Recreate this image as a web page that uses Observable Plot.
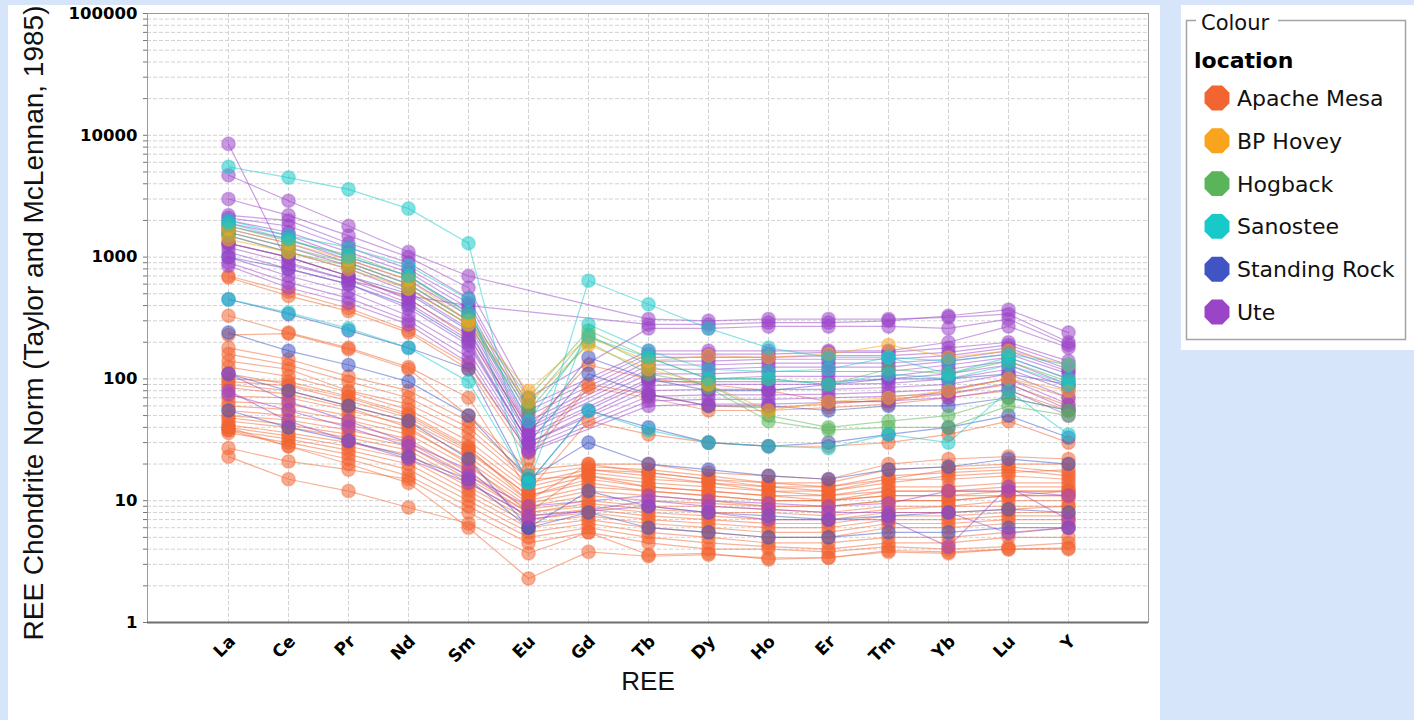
<!DOCTYPE html>
<html><head><meta charset="utf-8">
<script src="https://cdn.jsdelivr.net/npm/d3@7"></script>
<script src="https://cdn.jsdelivr.net/npm/@observablehq/plot@0.6"></script>
<style>
html,body{margin:0;padding:0;background:#d6e5fa;width:1414px;height:720px;overflow:hidden;}
#panel{position:absolute;left:8px;top:5px;width:1152px;height:715px;background:#fff;overflow:hidden;}
#legend{position:absolute;left:1181px;top:5px;width:233px;height:345px;background:#fff;}
</style></head><body>
<div id="panel"></div><div id="legend"></div>
<script>
const elements = ["La","Ce","Pr","Nd","Sm","Eu","Gd","Tb","Dy","Ho","Er","Tm","Yb","Lu","Y"];
const locations = ["Apache Mesa","BP Hovey","Hogback","Sanostee","Standing Rock","Ute"];
const colours = ["#f26531","#f8a51d","#5ab55a","#17c9c9","#4054c4","#9a44c8"];
const yTickLabels = [1,10,100,1000,10000,100000];
const yTitle = "REE Chondrite Norm (Taylor and McLennan, 1985)";
const xTitle = "REE";
const legendTitle = "Colour";
const legendField = "location";

// values per sample, in element order La..Y (chondrite normalised); null = not measured
const apacheMesa = [
  [1300,1000,700,460,220,40,130,100,90,80,65,65,80,100,70],
  [700,520,380,250,130,25,90,75,60,58,62,68,75,90,60],
  [680,480,360,240,120,22,85,70,55,55,58,62,70,80,55],
  [330,240,180,125,70,12,45,35,30,28,28,30,35,45,30],
  [230,235,175,120,50,18,20,20,17,16,15,20,22,23,22],
  [180,145,105,80,45,16,19,18,16,14,14,18,19,20,20],
  [140,120,80,62,36,14,18,17,15,13,13,16,17,18,16],
  [125,105,78,56,31,13,17,15,14,12,12,15,15,16,15],
  [100,95,72,52,28,12,16,14,13,12,11,13,13,14,14],
  [95,88,66,48,26,11,15,13,12,11,11,12,12,13,13],
  [90,80,60,45,25,11,14,12,11,10,10,12,12,12,12],
  [72,70,55,42,23,10,13,12,11,10,10,11,11,12,12],
  [65,62,50,38,21,9.5,12,11,10,9,9,10,10,11,11],
  [60,56,46,35,19,9,11,10,9.5,9,9,10,10,11,11],
  [55,50,42,32,17,8.5,10,9,9,8.5,8,9,9,10,10],
  [50,46,38,30,16,8,9.5,8.5,8,8,7.5,8.5,9,9,9],
  [48,42,35,28,15,8,9,8,7.5,7,7,8,8,8.5,9],
  [45,40,33,26,14,7.5,8.5,7.5,7,6.5,6.5,7.5,7.5,8,8],
  [42,36,30,24,13,7,8,7,6.5,6,6,7,7,7.5,7.5],
  [40,34,28,22,12,6.5,7.5,6.5,6,5.5,5.5,6.5,6.5,7,7],
  [38,32,26,20,11,6,7,6,5.5,5,5,6,6,6.5,6.5],
  [36,30,24,18,10,5.5,6.5,5.5,5,4.5,4.5,5,5,5.5,6],
  [40,28,22,16,9,5,6,5,4.5,4.2,4,4.5,4.5,5,5],
  [27,21,18,15,8,4.5,5.5,4.5,4,4,3.8,4.2,4,4.2,4.5],
  [23,15,12,8.8,6.5,3.7,5.5,3.6,3.7,3.3,3.4,3.8,3.7,4,4],
  [38,28,20,14,6,2.3,3.8,3.5,3.6,3.4,3.4,3.9,3.8,4,4.1],
  [85,75,58,40,20,8,18,16,14,13,12,14,16,17,18],
  [110,90,70,50,27,10,20,17,15,14,13,15,18,19,17],
  [160,130,95,70,40,15,16,13,12,11,10,11,11,11,12]
];
const bpHovey = [
  [1700,1300,950,650,300,80,220,140,155,150,160,190,150,170,130],
  [1400,1100,800,550,280,65,190,120,90,55,65,70,80,100,80]
];
const hogback = [
  [1800,1350,1050,700,330,70,250,150,100,100,90,120,110,140,95],
  [1600,1200,900,600,300,60,230,130,85,45,38,40,40,60,50],
  [1500,1100,850,550,280,55,200,110,90,50,40,45,50,70,55]
];
const sanostee = [
  [5500,4500,3600,2500,1300,16,640,410,260,180,150,150,140,160,130],
  [2000,1500,1200,850,450,14,280,170,120,115,120,150,110,150,100],
  [450,350,260,180,95,14,55,38,30,28,27,35,30,80,35],
  [1900,1400,1000,700,350,45,220,150,100,100,90,110,100,130,90]
];
const standingRock = [
  [450,340,250,180,120,14,55,40,30,28,30,35,40,50,33],
  [240,170,130,95,50,15,30,20,18,16,15,18,19,22,20],
  [55,40,31,23,15,6,8,6,5.5,5,5,5.5,5.5,6,6],
  [1300,1000,700,500,250,35,150,100,80,80,90,100,100,110,90],
  [1000,800,600,400,200,30,110,75,60,60,55,60,60,70,55],
  [110,80,60,45,22,6,12,9,8,7.5,7,7.5,8,8.5,8]
];
const ute = [
  [8500,870,650,480,400,null,null,280,280,290,290,300,330,370,240],
  [4700,2900,1800,1100,700,null,null,310,300,310,310,310,320,340,200],
  [3000,2200,1500,1000,560,70,null,260,260,270,270,270,260,310,190],
  [2200,2000,1300,900,460,60,null,170,170,170,170,170,200,270,180],
  [2100,1800,1200,800,420,55,null,160,160,160,165,165,180,200,140],
  [2000,1600,1100,750,380,50,null,150,150,150,155,155,165,190,130],
  [1900,1500,1000,700,350,45,null,140,140,145,145,145,155,180,120],
  [1800,1400,950,650,330,42,null,130,130,135,135,135,145,170,115],
  [1700,1300,900,600,300,40,null,120,120,125,125,125,140,160,110],
  [1600,1200,850,560,280,38,null,110,110,115,115,115,130,150,100],
  [1500,1100,800,520,260,35,null,100,100,105,105,105,120,140,90],
  [1300,1000,700,450,230,33,null,95,95,95,95,100,110,130,85],
  [1200,900,650,420,210,30,null,88,90,90,90,92,100,120,80],
  [1100,800,600,380,190,30,null,80,82,82,82,85,90,110,70],
  [1000,700,520,330,170,28,null,72,74,74,75,78,82,100,62],
  [900,620,460,300,150,26,null,66,68,68,70,72,76,92,56],
  [850,560,420,280,135,25,null,60,62,62,64,66,70,82,50],
  [110,65,45,30,18,7,null,10,9,8.5,8,8,8,5.4,6],
  [80,45,31,22,14,7.5,null,9,8,7,7,7,4.2,13,7],
  [75,55,40,28,16,9,null,11,10,9.5,9,9.5,12,12,11]
];

const series = [
  ["Apache Mesa", apacheMesa],
  ["Standing Rock", standingRock],
  ["Ute", ute],
  ["Hogback", hogback],
  ["BP Hovey", bpHovey],
  ["Sanostee", sanostee]
];
const rows = [];
for (const [loc, samples] of series) {
  samples.forEach((s, i) => {
    s.forEach((v, j) => {
      if (v != null) rows.push({loc, id: loc + i, el: elements[j], v});
    });
  });
}
const gridValues = [];
for (let k = 0; k < 5; k++) for (let m = 1; m <= 9; m++) gridValues.push(m * Math.pow(10, k));
gridValues.push(100000);

const chart = Plot.plot({
  width: 1152, height: 715,
  marginLeft: 139, marginRight: 12, marginTop: 8, marginBottom: 98,
  style: {fontFamily: "DejaVu Sans", fontSize: "16px", color: "#000", background: "transparent", overflow: "visible"},
  x: {type: "point", domain: elements, padding: 1.23, label: null},
  y: {type: "log", domain: [1, 100000], label: null},
  color: {domain: locations, range: colours},
  marks: [
    Plot.ruleY(gridValues, {stroke: "#d2d2d2", strokeDasharray: "4,2"}),
    Plot.ruleX(elements, {stroke: "#d2d2d2", strokeDasharray: "4,2"}),
    Plot.frame({stroke: "#9a9a9a"}),
    Plot.ruleY([1], {stroke: "#6e6e6e", strokeWidth: 2}),
    Plot.axisY({ticks: gridValues, tickSize: 4, tickPadding: 6, stroke: "#777",
      tickFormat: d => yTickLabels.includes(d) ? String(d) : "", fontSize: 16.5, fontWeight: "bold", label: null}),
    Plot.axisX({tickRotate: -45, tickSize: 0, tickPadding: 16, dx: 4, fontSize: 17, fontWeight: "bold", label: null}),
    Plot.line(rows, {x: "el", y: "v", z: "id", stroke: "loc", strokeWidth: 1.2, strokeOpacity: 0.5}),
    Plot.dot(rows, {x: "el", y: "v", r: 6.8, fill: "loc", fillOpacity: 0.55, stroke: "loc", strokeOpacity: 0.3}),
    Plot.text([yTitle], {text: d => d, frameAnchor: "bottom-left", dx: -105, dy: 18, rotate: -90,
      textAnchor: "start", fontSize: 28, fontFamily: "Liberation Sans", fill: "#111"}),
    Plot.text([xTitle], {text: d => d, frameAnchor: "bottom", dy: 67, fontSize: 26,
      fontFamily: "Liberation Sans", fill: "#111"})
  ]
});
document.getElementById("panel").appendChild(chart);

// legend
const lg = d3.select("#legend").append("svg").attr("width", 233).attr("height", 345)
  .style("font-family", "DejaVu Sans");
lg.append("rect").attr("x", 5.5).attr("y", 15.5).attr("width", 219).attr("height", 319)
  .attr("fill", "none").attr("stroke", "#a4a4a4").attr("stroke-width", 1.5);
lg.append("rect").attr("x", 15).attr("y", 5).attr("width", 82).attr("height", 22).attr("fill", "#fff");
lg.append("text").attr("x", 20).attr("y", 25).attr("font-size", 21).attr("fill", "#111").text(legendTitle);
lg.append("text").attr("x", 13).attr("y", 63).attr("font-size", 22).attr("font-weight", "bold").attr("fill", "#000").text(legendField);
const oct = r => d3.range(8).map(k => {
  const a = (k + 0.5) * Math.PI / 4;
  return [r * Math.cos(a), r * Math.sin(a)].join(",");
}).join(" ");
locations.forEach((loc, i) => {
  const g = lg.append("g").attr("transform", `translate(36,${93 + 42.8 * i})`);
  g.append("polygon").attr("points", oct(13.5)).attr("fill", colours[i]);
  g.append("text").attr("x", 20).attr("y", 0).attr("dy", "0.36em").attr("font-size", 22).attr("fill", "#111").text(loc);
});
</script>
</body></html>
